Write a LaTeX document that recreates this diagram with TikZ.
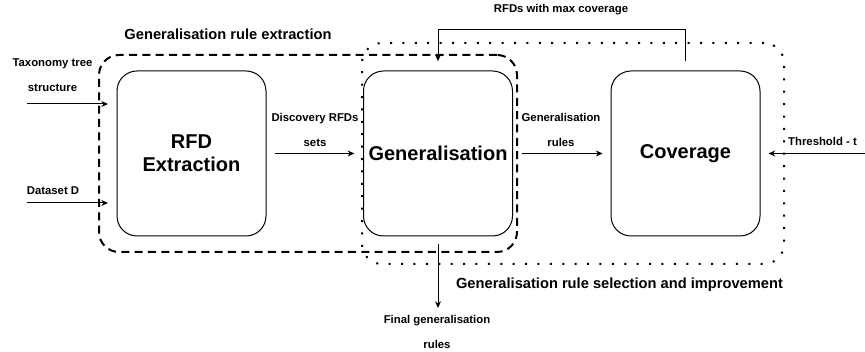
\documentclass[tikz,border=0pt]{standalone}
\usepackage{fontspec}
\setmainfont{Liberation Sans}
\usetikzlibrary{arrows.meta}

\begin{document}
\begin{tikzpicture}[x=0.75pt,y=0.75pt,yscale=-1,xscale=1,
  stage/.style={draw, rounded corners=15pt, line width=0.75pt, minimum width=111.75pt, minimum height=123.75pt, align=center, font=\bfseries\fontsize{15}{17.5}\selectfont},
  lbl/.style={align=center, inner sep=0pt, font=\bfseries\fontsize{8.5}{18.75}\selectfont},
  grouplbl/.style={inner sep=0pt, font=\bfseries\fontsize{11}{13}\selectfont},
  flow/.style={-{Stealth[length=5pt,width=4.5pt]}, line width=0.75pt}
  ]
\useasboundingbox (0,0) rectangle (865,352);

%Rounded Rect dotted group
\node[draw, line width=1.5pt, dash pattern=on 1.5pt off 7.8pt, rounded corners=15pt, minimum width=316.5pt, minimum height=165.75pt] (selectgrp) at (573,153.5) {};
%Rounded Rect dashed group
\node[draw, line width=1.5pt, dash pattern=on 6pt off 4pt, rounded corners=15pt, minimum width=313.5pt, minimum height=147.75pt] (extractgrp) at (308,153.5) {};

%Rounded Rect stages
\node[stage] (rfd) at (191.5,153.5) {RFD\\Extraction};
\node[stage] (gen) at (438,153.5) {Generalisation};
\node[stage] (cov) at (685.5,153.5) {Coverage};

%free ends
\coordinate (taxin) at (27,104);
\coordinate (taxend) at (108,104);
\coordinate (datain) at (27,203);
\coordinate (dataend) at (108,203);
\coordinate (thrin) at (865,153.5);
\coordinate (finalend) at (438,308);

%Straight Lines
\draw[flow] (taxin) -- (taxend);
\draw[flow] (datain) -- (dataend);
\draw[flow, shorten <=6pt, shorten >=6.5pt] (rfd) -- (gen);
\draw[flow, shorten <=6.5pt, shorten >=6pt] (gen) -- (cov);
\draw[flow, shorten >=6pt] (thrin) -- (cov);
\draw[flow, shorten <=6pt] (gen) -- (finalend);
\draw[flow, shorten <=7pt, shorten >=7pt] (cov.north) -- ++(0,-41) -| (gen.north);

% Text Node
\node[lbl] (taxlbl) at (52.5,75.5) {Taxonomy tree\\structure};
% Text Node
\node[lbl] (datalbl) at (53,191) {Dataset D};
% Text Node
\node[lbl] (rfdslbl) at (315,129.5) {Discovery RFDs\\sets};
% Text Node
\node[lbl] (ruleslbl) at (561,129.5) {Generalisation\\rules};
% Text Node
\node[lbl] (thrlbl) at (822.5,141) {Threshold - t};
% Text Node
\node[lbl] (maxlbl) at (561,10) {RFDs with max coverage};
% Text Node
\node[lbl] (finallbl) at (437,331.5) {Final generalisation\\rules};
% Text Node
\node[grouplbl] (extractlbl) at (228,34) {Generalisation rule extraction};
% Text Node
\node[grouplbl] (selectlbl) at (619.5,285) {Generalisation rule selection and improvement};

\end{tikzpicture}
\end{document}
